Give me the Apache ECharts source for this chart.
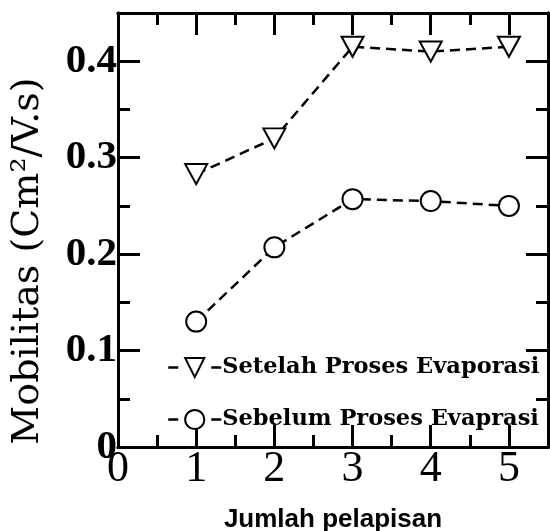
<!DOCTYPE html>
<html>
<head>
<meta charset="utf-8">
<script src="https://cdn.jsdelivr.net/npm/echarts@6/dist/echarts.min.js"></script>
<style>
html,body{margin:0;padding:0;background:#fff;}
#chart{width:550px;height:531px;}
</style>
</head>
<body>
<div id="chart"></div>
<script>
// Data
const xValues = [1, 2, 3, 4, 5];
const setelah = [0.283, 0.32, 0.415, 0.41, 0.415];
const sebelum = [0.13, 0.207, 0.257, 0.255, 0.25];
const seriesNames = ['Setelah Proses Evaporasi', 'Sebelum Proses Evaprasi'];
const xTicks = [0, 1, 2, 3, 4, 5];
const yTicks = [0, 0.1, 0.2, 0.3, 0.4];
const xTitle = 'Jumlah pelapisan';
const yTitle = 'Mobilitas (Cm\u00B2/V.s)';

const chart = echarts.init(document.getElementById('chart'));

const X_MIN = 0, X_MAX = 5.5, Y_MIN = 0, Y_MAX = 0.45;
const AXC = '#000';

function xAxisDef(position, interval, len, withLabels) {
  return {
    type: 'value', position: position, min: X_MIN, max: X_MAX, interval: interval,
    axisLine: { show: true, onZero: false, lineStyle: { color: AXC, width: 3 } },
    axisTick: { show: true, inside: true, length: len, lineStyle: { color: AXC, width: 3 } },
    splitLine: { show: false },
    axisLabel: withLabels ? {
      show: true, margin: 0, color: '#000',
      fontFamily: 'Liberation Serif', fontSize: 44,
      formatter: function (v) { return xTicks.indexOf(v) >= 0 ? String(v) : ''; }
    } : { show: false }
  };
}
function yAxisDef(position, interval, len, withLabels) {
  return {
    type: 'value', position: position, min: Y_MIN, max: Y_MAX, interval: interval,
    axisLine: { show: true, onZero: false, lineStyle: { color: AXC, width: 3 } },
    axisTick: { show: true, inside: true, length: len, lineStyle: { color: AXC, width: 3 } },
    splitLine: { show: false },
    axisLabel: withLabels ? {
      show: true, margin: 1, color: '#000',
      fontFamily: 'Liberation Serif', fontWeight: 'bold', fontSize: 41,
      formatter: function (v) {
        for (const t of yTicks) { if (Math.abs(t - v) < 1e-9) return t === 0 ? '0' : t.toFixed(1); }
        return '';
      }
    } : { show: false }
  };
}

const xMain = xAxisDef('bottom', 1, 22, true);
xMain.name = xTitle;
xMain.nameLocation = 'middle';
xMain.nameGap = 60;
xMain.nameTextStyle = { fontFamily: 'Liberation Sans', fontWeight: 'bold', fontSize: 26, color: '#000' };

const yMain = yAxisDef('left', 0.1, 22, true);
yMain.name = yTitle;
yMain.nameLocation = 'middle';
yMain.nameGap = 71;
yMain.nameRotate = 90;
yMain.nameTextStyle = { fontFamily: 'DejaVu Serif', fontSize: 38, color: '#000', padding: [0, 62, 0, 0] };

const lineStyle = { color: '#000', width: 2.5, type: [10, 6] };
const itemStyle = { color: '#000', borderColor: '#000', borderWidth: 2.5 };

chart.setOption({
  animation: false,
  backgroundColor: '#fff',
  grid: { left: 118, right: 2, top: 13, bottom: 84, containLabel: false, outerBoundsMode: 'none' },
  xAxis: [
    xMain,
    xAxisDef('top', 1, 22, false),
    xAxisDef('bottom', 0.5, 12, false),
    xAxisDef('top', 0.5, 12, false)
  ],
  yAxis: [
    yMain,
    yAxisDef('right', 0.1, 22, false),
    yAxisDef('left', 0.05, 12, false),
    yAxisDef('right', 0.05, 12, false)
  ],
  legend: {
    orient: 'vertical', left: 162, top: 351,
    itemWidth: 53, itemHeight: 24, itemGap: 29,
    lineStyle: { type: [10, 33], width: 2.5, color: '#000' },
    textStyle: { fontFamily: 'DejaVu Serif', fontWeight: 'bold', fontSize: 22.5, color: '#000', padding: [0, 0, 0, -4] },
    data: seriesNames
  },
  series: [
    {
      name: seriesNames[0], type: 'line', xAxisIndex: 0, yAxisIndex: 0,
      data: xValues.map((x, i) => [x, setelah[i]]),
      symbol: 'emptyTriangle', symbolRotate: 180, symbolSize: [22, 20],
      lineStyle: lineStyle, itemStyle: itemStyle, z: 3
    },
    {
      name: seriesNames[1], type: 'line', xAxisIndex: 0, yAxisIndex: 0,
      data: xValues.map((x, i) => [x, sebelum[i]]),
      symbol: 'emptyCircle', symbolSize: 20,
      lineStyle: lineStyle, itemStyle: itemStyle, z: 3
    }
  ]
});
</script>
</body>
</html>
